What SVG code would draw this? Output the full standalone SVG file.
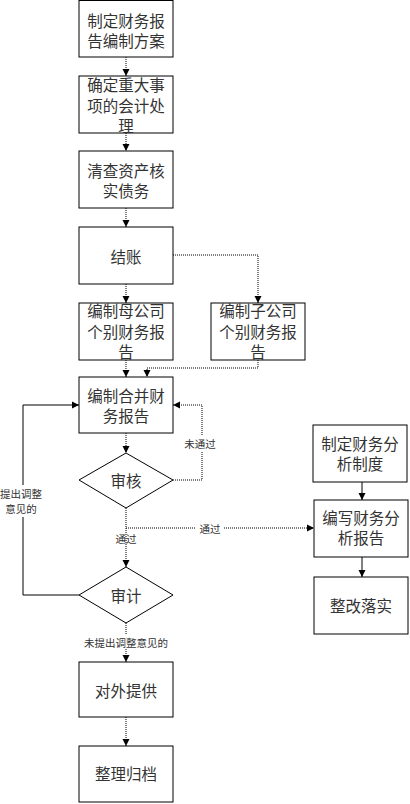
<svg xmlns="http://www.w3.org/2000/svg" width="410" height="804" viewBox="0 0 410 804">
<defs>
<marker id="ah" markerWidth="8" markerHeight="8" refX="7" refY="4" orient="auto" markerUnits="userSpaceOnUse">
<path d="M0,0.5 L7,4 L0,7.5 Z" fill="#000"/>
</marker>
<style>
.box{fill:#fff;stroke:#000;stroke-width:1}
.t{font-family:"Noto Sans CJK SC","Noto Sans",sans-serif;font-size:15.5px;fill:#333;text-anchor:middle;dominant-baseline:central}
.s{font-family:"Noto Sans CJK SC","Noto Sans",sans-serif;font-size:10.5px;fill:#333;text-anchor:middle;dominant-baseline:central}
.c{fill:none;stroke:#000;stroke-width:1}
.d{stroke-dasharray:1,1}
</style>
</defs>
<rect width="410" height="804" fill="#fff"/>
<g id="connectors">
<path class="c d" d="M126,57 V76" marker-end="url(#ah)"/>
<path class="c d" d="M126,133 V151" marker-end="url(#ah)"/>
<path class="c d" d="M126,208 V227" marker-end="url(#ah)"/>
<path class="c d" d="M126,284 V303" marker-end="url(#ah)"/>
<path class="c d" d="M173,255 H258 V303" marker-end="url(#ah)"/>
<path class="c d" d="M126,360 V377" marker-end="url(#ah)"/>
<path class="c d" d="M258,360 V368 H147 V377" marker-end="url(#ah)"/>
<path class="c d" d="M126,433 V453" marker-end="url(#ah)"/>
<path class="c d" d="M173,480 H202 V405 H173" marker-end="url(#ah)"/>
<path class="c d" d="M126,508 V567" marker-end="url(#ah)"/>
<path class="c d" d="M126,528 H314" marker-end="url(#ah)"/>
<path class="c" d="M79,595 H23 V405 H79" marker-end="url(#ah)"/>
<path class="c d" d="M126,623 V662" marker-end="url(#ah)"/>
<path class="c d" d="M126,717 V746" marker-end="url(#ah)"/>
<path class="c" d="M362,482 V500" marker-end="url(#ah)"/>
<path class="c" d="M362,557 V577" marker-end="url(#ah)"/>
<rect x="180" y="435" width="38" height="16" fill="#fff"/>
<text class="s" x="200" y="443">未通过</text>
<rect x="0" y="485" width="44" height="32" fill="#fff"/>
<text class="s" x="21" y="493">提出调整<tspan x="21" dy="15">意见的</tspan></text>
<rect x="196" y="521" width="28" height="14" fill="#fff"/>
<text class="s" x="210" y="528">通过</text>
<text class="s" x="126" y="538">通过</text>
<rect x="82" y="635" width="88" height="14" fill="#fff"/>
<text class="s" x="126" y="642">未提出调整意见的</text>
</g>
<g id="n1"><rect class="box" x="79" y="0.5" width="94" height="56.5"/><text class="t" x="126" y="20">制定财务报<tspan x="126" dy="20">告编制方案</tspan></text></g>
<g id="n2"><rect class="box" x="79" y="76" width="94" height="57"/><text class="t" x="126" y="84">确定重大事<tspan x="126" dy="21">项的会计处</tspan><tspan x="126" dy="20">理</tspan></text></g>
<g id="n3"><rect class="box" x="79" y="151" width="94" height="57"/><text class="t" x="126" y="170">清查资产核<tspan x="126" dy="20">实债务</tspan></text></g>
<g id="n4"><rect class="box" x="79" y="227" width="94" height="57"/><text class="t" x="126" y="256">结账</text></g>
<g id="n5"><rect class="box" x="79" y="303" width="94" height="57"/><text class="t" x="126" y="310">编制母公司<tspan x="126" dy="20.5">个别财务报</tspan><tspan x="126" dy="20">告</tspan></text></g>
<g id="n6"><rect class="box" x="211" y="303" width="94" height="57"/><text class="t" x="258" y="310">编制子公司<tspan x="258" dy="20.5">个别财务报</tspan><tspan x="258" dy="20">告</tspan></text></g>
<g id="n7"><rect class="box" x="79" y="377" width="94" height="56"/><text class="t" x="126" y="395">编制合并财<tspan x="126" dy="20">务报告</tspan></text></g>
<g id="n8"><path class="box" d="M126,453 L173,480 L126,508 L79,480 Z"/><text class="t" x="126" y="480">审核</text></g>
<g id="n9"><path class="box" d="M126,567 L173,595 L126,623 L79,595 Z"/><text class="t" x="126" y="595">审计</text></g>
<g id="n10"><rect class="box" x="79" y="662" width="94" height="55"/><text class="t" x="126" y="690">对外提供</text></g>
<g id="n11"><rect class="box" x="79" y="746" width="94" height="56"/><text class="t" x="126" y="773">整理归档</text></g>
<g id="n12"><rect class="box" x="313" y="425" width="94" height="57"/><text class="t" x="360" y="443">制定财务分<tspan x="360" dy="20">析制度</tspan></text></g>
<g id="n13"><rect class="box" x="314" y="500" width="94" height="57"/><text class="t" x="361" y="517">编写财务分<tspan x="361" dy="20">析报告</tspan></text></g>
<g id="n14"><rect class="box" x="314" y="577" width="94" height="57"/><text class="t" x="361" y="605">整改落实</text></g>
</svg>
